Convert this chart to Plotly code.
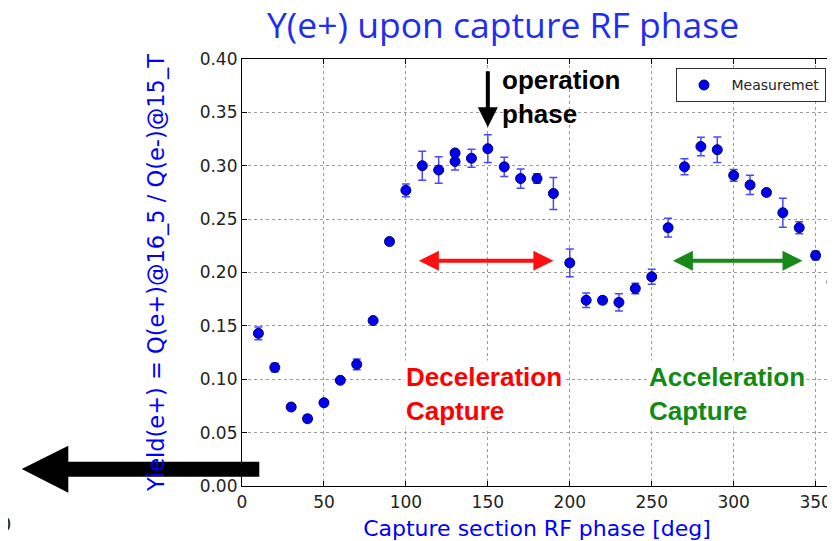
"""Positron yield vs capture section RF phase."""

import plotly.graph_objects as go

# measured points (deg, yield, error)
phase = [10, 20, 30, 40, 50, 60, 70, 80, 90, 100, 110, 120, 130, 130, 140, 150, 160,
         170, 180, 190, 200, 210, 220, 230, 240, 250, 260, 270, 280, 290, 300, 310,
         320, 330, 340, 350, 360]
yield_ep = [0.143, 0.111, 0.074, 0.063, 0.078, 0.099, 0.114, 0.155, 0.229, 0.277,
            0.300, 0.296, 0.304, 0.312, 0.307, 0.316, 0.299, 0.288, 0.288, 0.274,
            0.209, 0.174, 0.174, 0.172, 0.185, 0.196, 0.242, 0.299, 0.318, 0.315,
            0.291, 0.282, 0.275, 0.256, 0.242, 0.216, 0.191]
yield_err = [0.006, 0.004, 0.002, 0.003, 0.002, 0.002, 0.005, 0.002, 0.002, 0.006,
             0.0135, 0.0125, 0.008, 0.003, 0.0085, 0.013, 0.009, 0.009, 0.0045, 0.015,
             0.013, 0.0068, 0.003, 0.008, 0.005, 0.007, 0.0088, 0.0075, 0.0086, 0.012,
             0.0055, 0.009, 0.002, 0.0136, 0.0056, 0.004, 0.007]

x_ticks = [0, 50, 100, 150, 200, 250, 300, 350]
y_ticks = [0.00, 0.05, 0.10, 0.15, 0.20, 0.25, 0.30, 0.35, 0.40]

# annotation ranges (deg / yield)
decel_range = [107, 190]
accel_range = [262, 342]
range_y = 0.211
op_phase = 150
op_arrow_y = [0.390, 0.336]

# page has an 8px body margin, so the figure is shrunk by that much
OFF = 8
W, H = 835 - OFF, 541 - OFF
PL, PR, PT, PB = 242, 832, 59, 486   # plot box in window pixels
L, R, T, B = PL - OFF, W + OFF - PR, PT - OFF, H + OFF - PB


def to_paper(px, py):
    # window pixel position -> paper coords
    return (px - PL) / (PR - PL), (PB - py) / (PB - PT)


fig = go.Figure()

fig.add_trace(go.Scatter(
    x=phase, y=yield_ep,
    mode='markers',
    name='Measuremet',
    marker=dict(color='#0000f0', size=10, line=dict(color='#00006a', width=1)),
    error_y=dict(type='data', array=yield_err, color='#4848ff', thickness=1.5, width=4),
))

axis_common = dict(
    showline=True, linecolor='black', linewidth=1.2, mirror='ticks',
    ticks='inside', ticklen=5, tickcolor='black',
    showgrid=True, gridcolor='#9a9a9a', griddash='dot', gridwidth=1,
    zeroline=False,
    tickfont=dict(family='DejaVu Sans', size=17, color='#222222'),
)

fig.update_xaxes(
    range=[0, 360], tickvals=x_ticks, ticktext=[str(v) for v in x_ticks],
    title=dict(text='Capture section RF phase [deg]', standoff=11,
               font=dict(family='DejaVu Sans', size=22, color='#0000ff')),
    **axis_common,
)
fig.update_yaxes(
    range=[0, 0.40], tickvals=y_ticks, ticktext=[f'{v:.2f}' for v in y_ticks],
    **axis_common,
)

annotations = []

# y axis label
lx, ly = to_paper(156, 273)
annotations.append(dict(
    text='Yield(e+) = Q(e+)@16_5 / Q(e-)@15_T', textangle=-90,
    xref='paper', yref='paper', x=lx, y=ly, xanchor='center', yanchor='middle',
    showarrow=False, font=dict(family='DejaVu Sans', size=22.5, color='#0000ff'),
))

# operation phase arrow + label
annotations.append(dict(
    x=op_phase, y=op_arrow_y[1], ax=op_phase, ay=op_arrow_y[0],
    xref='x', yref='y', axref='x', ayref='y', text='',
    showarrow=True, arrowhead=2, arrowsize=1, arrowwidth=4, arrowcolor='black',
))
annotations.append(dict(
    text='<b>operation<br>phase</b>', x=157.5, y=0.364, xref='x', yref='y',
    xanchor='left', yanchor='middle', align='left', showarrow=False,
    font=dict(family='Liberation Sans', size=26, color='black'),
))

# capture ranges
for rng, col in [(decel_range, '#ff1010'), (accel_range, '#188818')]:
    annotations.append(dict(
        x=rng[1], y=range_y, ax=rng[0], ay=range_y,
        xref='x', yref='y', axref='x', ayref='y', text='',
        showarrow=True, arrowhead=2, arrowside='end+start', arrowsize=1,
        arrowwidth=4, arrowcolor=col,
    ))

annotations.append(dict(
    text='<b>Deceleration<br>Capture</b>', x=99, y=0.086, xref='x', yref='y',
    xanchor='left', yanchor='middle', align='left', showarrow=False, bgcolor='white',
    font=dict(family='Liberation Sans', size=26, color='#ff0000'),
))
annotations.append(dict(
    text='<b>Acceleration<br>Capture</b>', x=247, y=0.086, xref='x', yref='y',
    xanchor='left', yanchor='middle', align='left', showarrow=False, bgcolor='white',
    font=dict(family='Liberation Sans', size=26, color='#138a13'),
))

# leftover tick label from the slide, mostly off the left edge
ox, oy = to_paper(13, 524)
annotations.append(dict(
    text='300', x=ox, y=oy, xref='paper', yref='paper', xanchor='right',
    yanchor='middle', showarrow=False,
    font=dict(family='DejaVu Sans', size=19, color='#222222'),
))

# big black arrow pointing left
pts = [(21.7, 469), (68.3, 445.7), (68.3, 461.7), (259.3, 461.7),
       (259.3, 476.7), (68.3, 476.7), (68.3, 492.7)]
path = 'M ' + ' L '.join(f'{to_paper(px, py)[0]:.4f},{to_paper(px, py)[1]:.4f}'
                         for px, py in pts) + ' Z'

fig.update_layout(
    width=W, height=H,
    margin=dict(l=L, r=R, t=T, b=B),
    paper_bgcolor='white', plot_bgcolor='white',
    title=dict(text='Y(e+) upon capture RF phase', x=(503 - OFF) / W, xref='container',
               xanchor='center', y=1 - (26 - OFF) / H, yref='container', yanchor='middle',
               font=dict(family='Open Sans', size=35.5, color='#1f2ff0')),
    showlegend=True,
    legend=dict(x=0.989, y=0.978, xanchor='right', yanchor='top', itemwidth=45,
                bgcolor='white', bordercolor='#333333', borderwidth=1,
                font=dict(family='DejaVu Sans', size=14, color='#222222')),
    annotations=annotations,
    shapes=[dict(type='path', path=path, xref='paper', yref='paper',
                 fillcolor='black', line=dict(color='black', width=0), layer='above')],
)

fig.write_html('out.html')
